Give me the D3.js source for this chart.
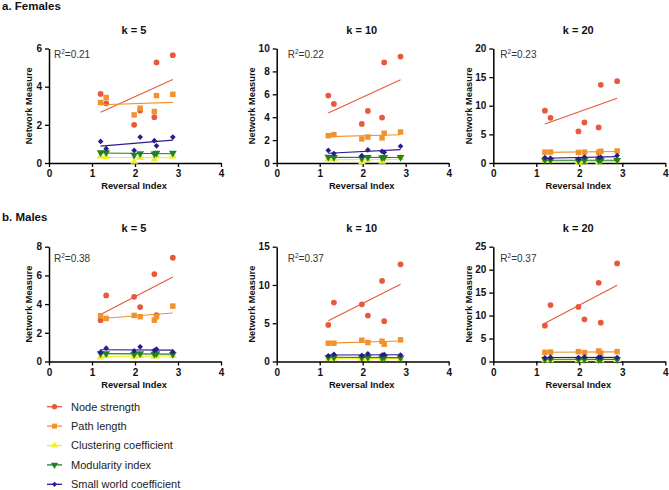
<!DOCTYPE html>
<html><head><meta charset="utf-8">
<script src="https://cdn.jsdelivr.net/npm/d3@7"></script>
<style>
body{margin:0;background:#fff}
svg{display:block;font-family:"Liberation Sans",Arial,sans-serif}
</style>
</head><body>
<svg id="c" width="669" height="490"></svg>
<script>
// ---------------- data ----------------
const reversalIndex = [1.2, 1.33, 1.98, 2.12, 2.45, 2.5, 2.88];
const seriesNames = ["Node strength", "Path length", "Clustering coefficient", "Modularity index", "Small world coefficient"];
const groupLabels = ["a. Females", "b. Males"];
const kLabels = ["k = 5", "k = 10", "k = 20"];
const xTickValues = [0, 1, 2, 3, 4];
const femaleR2 = ["0.21", "0.22", "0.23"];
const maleR2 = ["0.38", "0.37", "0.37"];
const femaleYTicks = [[0, 2, 4, 6], [0, 2, 4, 6, 8, 10], [0, 5, 10, 15, 20]];
const maleYTicks = [[0, 2, 4, 6, 8], [0, 5, 10, 15], [0, 5, 10, 15, 20, 25]];

// Females k = 5
const fK5Node  = [3.62, 3.13, 2.0, 2.75, 2.4, 5.27, 5.65];
const fK5Path  = [3.17, 3.43, 2.52, 2.87, 2.70, 3.53, 3.6];
const fK5Clust = [0.35, 0.33, 0.08, 0.27, 0.2, 0.37, 0.35];
const fK5Mod   = [0.55, 0.55, 0.42, 0.5, 0.48, 0.52, 0.52];
const fK5SW    = [1.13, 0.75, 0.66, 1.36, 1.17, 0.9, 1.36];
// Females k = 10
const fK10Node  = [5.89, 5.16, 3.41, 4.55, 3.97, 8.78, 9.3];
const fK10Path  = [2.39, 2.48, 2.1, 2.27, 2.19, 2.6, 2.71];
const fK10Clust = [0.35, 0.35, 0.08, 0.3, 0.12, 0.42, 0.45];
const fK10Mod   = [0.52, 0.5, 0.42, 0.5, 0.48, 0.5, 0.5];
const fK10SW    = [1.1, 0.82, 0.64, 1.14, 1.02, 0.93, 1.46];
// Females k = 20
const fK20Node  = [9.13, 7.9, 5.52, 7.09, 6.22, 13.66, 14.3];
const fK20Path  = [1.9, 1.92, 1.85, 1.9, 1.88, 2.05, 2.1];
const fK20Clust = [0.4, 0.4, 0.1, 0.3, 0.15, 0.45, 0.45];
const fK20Mod   = [0.5, 0.5, 0.4, 0.48, 0.45, 0.5, 0.5];
const fK20SW    = [0.95, 0.85, 0.7, 1.05, 0.95, 1.0, 1.3];
// Males k = 5
const mK5Node  = [2.88, 4.6, 4.51, 3.79, 6.09, 3.23, 7.23];
const mK5Path  = [3.19, 3.0, 3.21, 3.12, 2.88, 3.12, 3.86];
const mK5Clust = [0.3, 0.4, 0.35, 0.4, 0.35, 0.38, 0.4];
const mK5Mod   = [0.55, 0.55, 0.5, 0.55, 0.52, 0.55, 0.5];
const mK5SW    = [0.65, 0.93, 0.74, 1.02, 0.77, 0.86, 0.67];
// Males k = 10
const mK10Node  = [4.78, 7.7, 7.48, 6.0, 10.52, 5.26, 12.7];
const mK10Path  = [2.39, 2.39, 2.78, 2.48, 2.65, 2.26, 2.83];
const mK10Clust = [0.35, 0.4, 0.35, 0.4, 0.35, 0.4, 0.4];
const mK10Mod   = [0.55, 0.55, 0.5, 0.55, 0.5, 0.55, 0.5];
const mK10SW    = [0.75, 0.95, 0.8, 1.0, 0.85, 0.9, 0.85];
// Males k = 20
const mK20Node  = [7.8, 12.3, 11.88, 9.18, 17.13, 8.45, 21.36];
const mK20Path  = [2.0, 2.05, 2.15, 1.95, 2.3, 1.85, 2.15];
const mK20Clust = [0.3, 0.35, 0.35, 0.4, 0.35, 0.35, 0.4];
const mK20Mod   = [0.5, 0.5, 0.45, 0.5, 0.45, 0.5, 0.45];
const mK20SW    = [0.8, 0.95, 0.85, 1.0, 0.9, 0.9, 0.85];

// ---------------- styles / layout ----------------
const colors = ["#E8583A", "#F0922E", "#F4EE1F", "#22802A", "#2A1C8A"];
const colX0 = [49, 276.7, 493.3];
const plotW = 172;
const rowTop = [48.5, 246.7];
const rowBottom = [163, 361.5];
const r2Dx = [5, 11, 7];
const r2Dy = [9, 15];
const yLabelDx = [17, 22, 21];

const panelTable = [
  [[fK5Node, fK5Path, fK5Clust, fK5Mod, fK5SW], [fK10Node, fK10Path, fK10Clust, fK10Mod, fK10SW], [fK20Node, fK20Path, fK20Clust, fK20Mod, fK20SW]],
  [[mK5Node, mK5Path, mK5Clust, mK5Mod, mK5SW], [mK10Node, mK10Path, mK10Clust, mK10Mod, mK10SW], [mK20Node, mK20Path, mK20Clust, mK20Mod, mK20SW]]
];
const r2Table = [femaleR2, maleR2];
const yTickTable = [femaleYTicks, maleYTicks];

const svg = d3.select("#c");

function markerPath(i, scale) {
  const s = scale || 1;
  const gens = [
    d3.symbol().type(d3.symbolCircle).size(26 * s),
    d3.symbol().type(d3.symbolSquare).size(30 * s),
    d3.symbol().type(d3.symbolTriangle).size(26 * s),
    d3.symbol().type(d3.symbolTriangle).size(26 * s),
    d3.symbol().type(d3.symbolSquare).size(16 * s)
  ];
  return gens[i]();
}
function markerTransform(i, x, y) {
  if (i === 3) return `translate(${x},${y}) rotate(180)`;
  if (i === 4) return `translate(${x},${y}) rotate(45)`;
  return `translate(${x},${y})`;
}

function fit(xs, ys) {
  const mx = d3.mean(xs), my = d3.mean(ys);
  let sxy = 0, sxx = 0;
  xs.forEach((x, i) => { sxy += (x - mx) * (ys[i] - my); sxx += (x - mx) * (x - mx); });
  const b = sxy / sxx;
  return x => my + b * (x - mx);
}

// group labels
groupLabels.forEach((g, r) => {
  svg.append("text").attr("x", 2).attr("y", r === 0 ? 10 : 221)
    .attr("font-size", 11.5).attr("font-weight", "bold").attr("fill", "#111").text(g);
});

panelTable.forEach((row, r) => {
  row.forEach((series, c) => {
    const x0 = colX0[c];
    const ticks = yTickTable[r][c];
    const x = d3.scaleLinear().domain([0, 4]).range([x0, x0 + plotW]);
    const y = d3.scaleLinear().domain([0, ticks[ticks.length - 1]]).range([rowBottom[r], rowTop[r]]);
    const g = svg.append("g");

    // title
    g.append("text").attr("x", x0 + plotW / 2 - 1).attr("y", r === 0 ? 34 : 232)
      .attr("text-anchor", "middle").attr("font-size", 11).attr("font-weight", "bold")
      .attr("fill", "#111").text(kLabels[c]);

    // axes
    const fmt = d3.format("d");
    const ya = g.append("g").attr("transform", `translate(${x0},0)`)
      .call(d3.axisLeft(y).tickValues(ticks).tickFormat(fmt).tickSize(4).tickSizeOuter(0).tickPadding(3));
    const xa = g.append("g").attr("transform", `translate(0,${rowBottom[r]})`)
      .call(d3.axisBottom(x).tickValues(xTickValues).tickFormat(fmt).tickSize(4).tickSizeOuter(0).tickPadding(3));
    [ya, xa].forEach(a => {
      a.select(".domain").attr("stroke", "#000").attr("stroke-width", 1.5);
      a.selectAll(".tick line").attr("stroke", "#000").attr("stroke-width", 1.3);
      a.selectAll(".tick text").attr("font-size", 10).attr("font-weight", "bold")
        .attr("fill", "#111").attr("font-family", "Liberation Sans, Arial, sans-serif");
    });

    // axis labels
    const cy = (rowTop[r] + rowBottom[r]) / 2;
    g.append("text").attr("transform", `translate(${x0 - yLabelDx[c]},${cy}) rotate(-90)`)
      .attr("text-anchor", "middle").attr("font-size", 9.3)
      .attr("font-weight", "bold").attr("fill", "#111").text("Network Measure");
    g.append("text").attr("x", x0 + plotW / 2 - 1).attr("y", rowBottom[r] + 26)
      .attr("text-anchor", "middle").attr("font-size", 9.3).attr("font-weight", "bold")
      .attr("fill", "#111").text("Reversal Index");

    // R2
    const t = g.append("text").attr("x", x0 + r2Dx[c]).attr("y", rowTop[r] + r2Dy[r])
      .attr("font-size", 10).attr("fill", "#333");
    t.append("tspan").text("R");
    t.append("tspan").attr("font-size", 6.5).attr("dy", -4).text("2");
    t.append("tspan").attr("dy", 4).text("=" + r2Table[r][c]);

    // series
    const xmin = d3.min(reversalIndex), xmax = d3.max(reversalIndex);
    series.forEach((vals, i) => {
      const f = fit(reversalIndex, vals);
      g.append("line")
        .attr("x1", x(xmin)).attr("y1", y(f(xmin)))
        .attr("x2", x(xmax)).attr("y2", y(f(xmax)))
        .attr("stroke", colors[i]).attr("stroke-width", 1.1);
      g.selectAll(null).data(vals).enter().append("path")
        .attr("d", markerPath(i))
        .attr("transform", (v, j) => markerTransform(i, x(reversalIndex[j]), y(v)))
        .attr("fill", colors[i]);
    });
  });
});

// legend
const legY0 = 406.7, legStep = 19.4;
seriesNames.forEach((name, i) => {
  const yy = legY0 + i * legStep;
  const lg = svg.append("g");
  lg.append("line").attr("x1", 47).attr("x2", 62).attr("y1", yy).attr("y2", yy)
    .attr("stroke", colors[i]).attr("stroke-width", 1.3);
  lg.append("path").attr("d", markerPath(i, 0.85)).attr("transform", markerTransform(i, 54.5, yy))
    .attr("fill", colors[i]);
  lg.append("text").attr("x", 71).attr("y", yy).attr("dy", "0.36em")
    .attr("font-size", 11).attr("fill", "#222").text(name);
});
</script>
</body></html>
